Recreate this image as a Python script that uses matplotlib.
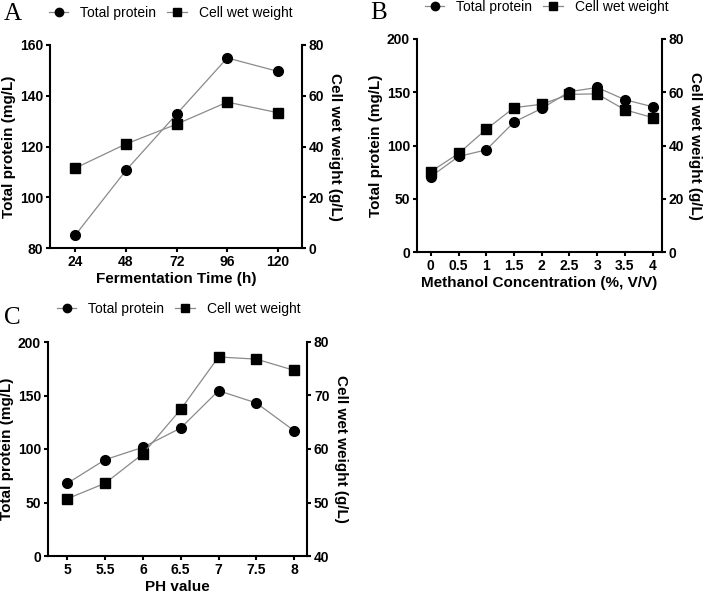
import numpy as np
import matplotlib.pyplot as plt
from matplotlib.lines import Line2D

plt.rcParams['font.family'] = ['Liberation Sans', 'DejaVu Sans']

# panel A - fermentation time
time_h = [24, 48, 72, 96, 120]
protein_time = [85.1, 110.6, 132.8, 154.9, 149.6]
cww_time = [31.5, 41.0, 48.8, 57.5, 53.3]

# panel B - methanol concentration
methanol = [0, 0.5, 1, 1.5, 2, 2.5, 3, 3.5, 4]
methanol_labels = ['0', '0.5', '1', '1.5', '2', '2.5', '3', '3.5', '4']
protein_meth = [70.8, 89.7, 95.9, 122.0, 134.8, 150.5, 154.5, 143.0, 136.4]
cww_meth = [30.2, 37.0, 46.1, 54.2, 55.5, 59.2, 59.4, 53.4, 50.5]

# panel C - pH
ph = [5, 5.5, 6, 6.5, 7, 7.5, 8]
ph_labels = ['5', '5.5', '6', '6.5', '7', '7.5', '8']
protein_ph = [67.9, 90.0, 101.6, 119.6, 154.5, 143.0, 117.1]
cww_ph = [50.7, 53.6, 59.1, 67.4, 77.2, 76.8, 74.7]

W, H = 708, 593
fig = plt.figure(figsize=(W / 100, H / 100), dpi=100)

line_col = '#8a8a8a'
label_font = {'size': 11, 'weight': 'bold'}


def px_axes(left, right, top, bottom):
    return fig.add_axes([left / W, 1 - bottom / H, (right - left) / W, (bottom - top) / H])


def style(ax):
    for s in ['left', 'bottom', 'right']:
        ax.spines[s].set_linewidth(1.5)
    ax.spines['top'].set_visible(False)
    ax.tick_params(direction='out', length=3, width=1.5, labelsize=10, pad=2)
    for lab in ax.get_xticklabels() + ax.get_yticklabels():
        lab.set_fontweight('bold')


def panel(left, right, top, bottom, x, p, c, xlim, xticks, xlabels, ylim1, yt1, ylim2, yt2, xlabel):
    ax = px_axes(left, right, top, bottom)
    ax2 = ax.twinx()
    ax.plot(x, p, color=line_col, lw=0.9, marker='o', ms=7, mfc='black', mec='black', zorder=3)
    ax2.plot(x, c, color=line_col, lw=0.9, marker='s', ms=7, mfc='black', mec='black', zorder=3)
    ax.set_xlim(xlim)
    ax.set_xticks(xticks)
    ax.set_xticklabels(xlabels)
    ax.set_ylim(ylim1)
    ax.set_yticks(yt1)
    ax2.set_ylim(ylim2)
    ax2.set_yticks(yt2)
    ax.set_xlabel(xlabel, fontdict=label_font, labelpad=2)
    ax.set_ylabel('Total protein (mg/L)', fontdict=label_font, labelpad=3)
    ax2.set_ylabel('Cell wet weight (g/L)', fontdict=label_font, rotation=270, labelpad=13)
    style(ax)
    style(ax2)
    ax2.spines['left'].set_visible(False)
    ax2.spines['bottom'].set_visible(False)
    ax.spines['right'].set_visible(False)
    return ax, ax2


def legend(xpx, ypx):
    handles = [Line2D([], [], color=line_col, lw=0.9, marker='o', ms=6, mfc='black', mec='black'),
               Line2D([], [], color=line_col, lw=0.9, marker='s', ms=6, mfc='black', mec='black')]
    fig.legend(handles, ['Total protein', 'Cell wet weight'], loc='center left',
               bbox_to_anchor=(xpx / W, 1 - ypx / H), ncol=2, frameon=False, fontsize=10,
               handlelength=1.4, handletextpad=0.85, columnspacing=0.8, borderpad=0, borderaxespad=0)


def letter(s, xpx, ypx):
    fig.text(xpx / W, 1 - ypx / H, s, family=['Liberation Serif', 'DejaVu Serif'], fontsize=18,
             va='center', ha='left')


panel(50, 302, 45, 248, time_h, protein_time, cww_time, (12, 131.4), time_h,
      [str(t) for t in time_h], (80, 160), [80, 100, 120, 140, 160], (0, 80), [0, 20, 40, 60, 80],
      'Fermentation Time (h)')
panel(417, 662, 39, 252, methanol, protein_meth, cww_meth, (-0.25, 4.17), methanol, methanol_labels,
      (0, 200), [0, 50, 100, 150, 200], (0, 80), [0, 20, 40, 60, 80],
      'Methanol Concentration (%, V/V)')
panel(48, 307, 342, 556, ph, protein_ph, cww_ph, (4.745, 8.17), ph, ph_labels,
      (0, 200), [0, 50, 100, 150, 200], (40, 80), [40, 50, 60, 70, 80], 'PH value')

legend(49, 13)
legend(425, 7)
legend(57, 309)

letter('A', 4, 14)
letter('B', 370, 13)
letter('C', 4, 318)

fig.savefig('out.png', dpi=100)
